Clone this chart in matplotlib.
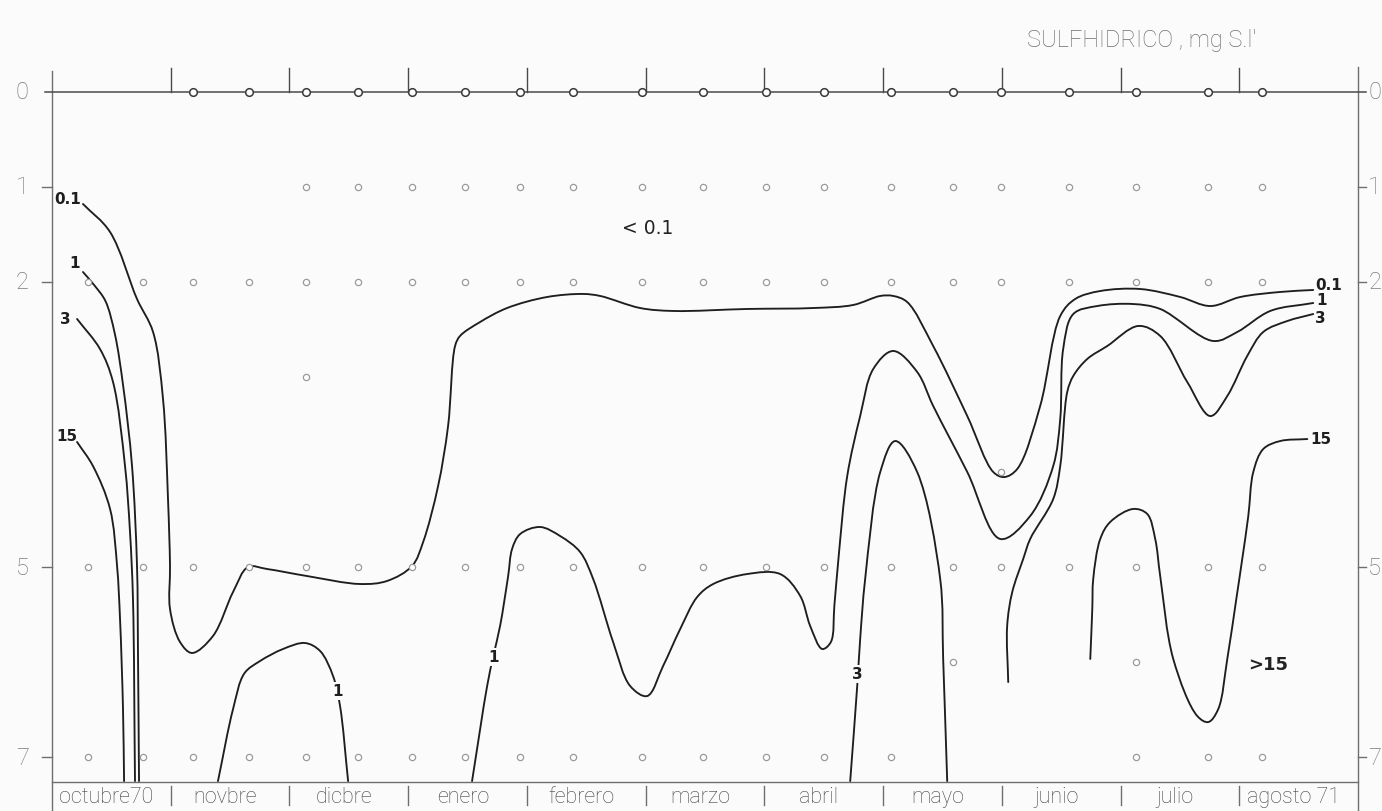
import numpy as np
import matplotlib
matplotlib.use("Agg")
import matplotlib.pyplot as plt
from matplotlib.path import Path
from matplotlib.patches import PathPatch

# ---------------- data ----------------
months = ["octubre70", "novbre", "dicbre", "enero", "febrero", "marzo",
          "abril", "mayo", "junio", "julio", "agosto 71"]
depth_ticks = [0, 1, 2, 5, 7]
title = "SULFHIDRICO , mg S.l'"

# sampling dates (in months since 1 Oct 1970)
station_x = [0.30, 0.77, 1.19, 1.66, 2.14, 2.58, 3.03, 3.48, 3.94, 4.39, 4.97,
             5.48, 6.01, 6.50, 7.07, 7.59, 7.99, 8.57, 9.13, 9.74, 10.19]
# indices of stations sampled at each depth
samples = {
    0: list(range(2, 21)),
    1: list(range(4, 21)),
    2: list(range(0, 21)),
    3: [4],
    4: [16],
    5: list(range(0, 21)),
    6: [15, 18],
    7: list(range(0, 15)) + [18, 19, 20],
}

# isolines (month, depth m)
iso01_a_x = [0.261, 0.489, 0.716, 0.851, 0.935, 0.977, 0.994, 0.994, 1.078, 1.179, 1.356,
             1.525, 1.651, 1.811, 2.148, 2.595, 2.822, 3.033, 3.126, 3.252, 3.336, 3.395,
             3.437, 3.606, 3.833, 4.170, 4.473, 4.617, 4.954, 5.232, 5.855, 6.411, 6.748,
             6.976, 7.085, 7.203, 7.422, 7.709, 7.928, 8.020, 8.130, 8.323, 8.492, 8.618,
             8.829, 9.166, 9.503, 9.756, 10.008, 10.345, 10.623]
iso01_a_d = [1.179, 1.474, 2.179, 2.526, 3.232, 4.284, 4.989, 5.442, 5.789, 5.905, 5.726,
             5.263, 5.000, 5.021, 5.095, 5.179, 5.147, 4.989, 4.737, 4.147, 3.516, 2.674,
             2.568, 2.421, 2.274, 2.158, 2.126, 2.147, 2.274, 2.305, 2.284, 2.274, 2.242,
             2.147, 2.147, 2.211, 2.674, 3.411, 4.000, 4.053, 3.968, 3.305, 2.358, 2.179,
             2.095, 2.074, 2.158, 2.253, 2.158, 2.105, 2.084]

iso1_a_x = [0.261, 0.360, 0.450, 0.530, 0.600, 0.674, 0.716, 0.724, 0.733]
iso1_a_d = [1.895, 2.040, 2.200, 2.550, 3.100, 3.937, 4.989, 5.863, 7.253]

iso3_a_x = [0.211, 0.404, 0.514, 0.615, 0.657, 0.682, 0.699]
iso3_a_d = [2.389, 2.705, 3.053, 3.937, 4.632, 5.337, 7.253]

iso15_a_x = [0.211, 0.345, 0.489, 0.548, 0.573, 0.598, 0.607]
iso15_a_d = [3.684, 3.937, 4.389, 4.989, 5.547, 6.495, 7.253]

iso1_b_x = [1.398, 1.525, 1.620, 1.752, 1.946, 2.131, 2.258, 2.367, 2.426, 2.494]
iso1_b_d = [7.253, 6.495, 6.120, 5.990, 5.863, 5.800, 5.884, 6.147, 6.463, 7.253]

iso1_c_x = [3.538, 3.665, 3.715, 3.774, 3.842, 3.875, 3.943, 4.111, 4.280, 4.448, 4.558,
            4.726, 4.870, 5.013, 5.147, 5.291, 5.434, 5.569, 5.855, 6.133, 6.302, 6.386,
            6.487, 6.560, 6.590, 6.625, 6.698, 6.807, 6.917, 7.085, 7.287, 7.422, 7.709,
            7.987, 8.239, 8.433, 8.492, 8.517, 8.602, 8.804, 9.107, 9.334, 9.781, 9.983,
            10.261, 10.623]
iso1_c_d = [7.253, 6.253, 5.947, 5.621, 5.095, 4.811, 4.653, 4.579, 4.674, 4.842, 5.126,
            5.789, 6.253, 6.358, 6.042, 5.653, 5.316, 5.179, 5.074, 5.074, 5.305, 5.621,
            5.863, 5.790, 5.400, 4.900, 4.042, 3.411, 2.916, 2.726, 2.947, 3.305, 4.000,
            4.705, 4.463, 3.937, 3.442, 2.705, 2.337, 2.253, 2.232, 2.284, 2.621, 2.526,
            2.305, 2.221]

iso3_b_x = [6.723, 6.782, 6.807, 6.849, 6.976, 7.102, 7.287, 7.481, 7.506, 7.540]
iso3_b_d = [7.253, 6.253, 5.758, 5.126, 4.000, 3.674, 4.000, 5.126, 5.968, 7.253]

iso3_c_x = [8.054, 8.045, 8.088, 8.180, 8.239, 8.433, 8.492, 8.551, 8.602, 8.719, 8.888,
            9.149, 9.334, 9.562, 9.756, 9.899, 10.067, 10.202, 10.404, 10.623]
iso3_c_d = [6.211, 5.621, 5.263, 4.916, 4.705, 4.284, 3.937, 3.158, 2.989, 2.811, 2.674,
            2.463, 2.568, 3.053, 3.411, 3.200, 2.779, 2.526, 2.411, 2.337]

iso15_b_x = [8.745, 8.762, 8.770, 8.829, 8.913, 9.107, 9.225, 9.292, 9.334, 9.444, 9.646,
             9.739, 9.823, 9.899, 9.975, 10.025, 10.076, 10.118, 10.202, 10.345, 10.573]
iso15_b_d = [5.968, 5.442, 5.126, 4.705, 4.526, 4.389, 4.442, 4.705, 5.095, 5.968, 6.568,
             6.632, 6.495, 5.968, 5.337, 4.916, 4.463, 4.000, 3.758, 3.674, 3.653]

# ---------------- figure ----------------
W, H = 1382, 812
fig = plt.figure(figsize=(W / 100, H / 100), dpi=100)
fig.patch.set_facecolor("#fbfbfb")
ax = fig.add_axes([52 / W, 29 / H, 1306 / W, 715 / H])
ax.set_xlim(0, 11)
ax.set_ylim(7.263, -0.263)
ax.axis("off")

AX = "#6e6e6e"
LAB = "#7a7a7a"
CL = "#1e1e1e"
THIN = dict(family=["Roboto", "DejaVu Sans"], fontweight="light")


def smooth_curve(xs, ds, lw=1.35, color=CL):
    """Centripetal Catmull-Rom curve through the given points, drawn as Bezier path."""
    pts = np.column_stack([xs, ds]).astype(float)
    n = len(pts)
    scr = ax.transData.transform(pts)
    seg = np.sqrt(np.linalg.norm(np.diff(scr, axis=0), axis=1)) + 1e-6
    t = np.concatenate([[0], np.cumsum(seg)])
    tang = np.zeros_like(pts)
    for i in range(n):
        if i == 0:
            tang[i] = (pts[1] - pts[0]) / (t[1] - t[0])
        elif i == n - 1:
            tang[i] = (pts[-1] - pts[-2]) / (t[-1] - t[-2])
        else:
            a = (pts[i] - pts[i - 1]) / (t[i] - t[i - 1])
            b = (pts[i + 1] - pts[i]) / (t[i + 1] - t[i])
            c = (pts[i + 1] - pts[i - 1]) / (t[i + 1] - t[i - 1])
            tang[i] = a + b - c
    verts = [tuple(pts[0])]
    codes = [Path.MOVETO]
    for i in range(n - 1):
        h = t[i + 1] - t[i]
        c1 = pts[i] + tang[i] * h / 3.0
        c2 = pts[i + 1] - tang[i + 1] * h / 3.0
        verts += [tuple(c1), tuple(c2), tuple(pts[i + 1])]
        codes += [Path.CURVE4] * 3
    ax.add_patch(PathPatch(Path(verts, codes), fill=False, lw=lw,
                           edgecolor=color, capstyle="round", zorder=3))


for xs, ds in [(iso01_a_x, iso01_a_d), (iso1_a_x, iso1_a_d), (iso3_a_x, iso3_a_d),
               (iso15_a_x, iso15_a_d), (iso1_b_x, iso1_b_d), (iso1_c_x, iso1_c_d),
               (iso3_b_x, iso3_b_d), (iso3_c_x, iso3_c_d), (iso15_b_x, iso15_b_d)]:
    smooth_curve(xs, ds)

# frame lines
kw = dict(color=AX, lw=1.0, clip_on=False, zorder=2)
ax.plot([0, 0], [-0.22, 7.57], **kw)
ax.plot([11, 11], [-0.26, 7.57], **kw)
ax.plot([0, 11], [7.263, 7.263], **kw)
ax.plot([-0.06, 11.07], [0, 0], color="#4a4a4a", lw=1.1, clip_on=False, zorder=2)
for m in range(1, 11):
    ax.plot([m, m], [0, -0.25], color="#4a4a4a", lw=1.0, clip_on=False, zorder=2)
    ax.plot([m, m], [7.31, 7.50], color=AX, lw=1.0, clip_on=False, zorder=2)

# depth ticks & labels
for d in depth_ticks:
    if d != 0:
        ax.plot([-0.085, 0], [d, d], **kw)
        ax.plot([11, 11.07], [d, d], **kw)
    ax.text(-0.25, d, str(d), ha="center", va="center", fontsize=17,
            color=LAB, clip_on=False, **THIN)
    ax.text(11.14, d, str(d), ha="center", va="center", fontsize=17,
            color=LAB, clip_on=False, **THIN)

# month labels
for i, name in enumerate(months):
    ax.text(i + 0.46, 7.42, name, ha="center", va="center", fontsize=15.5,
            color="#444444", clip_on=False, **THIN)

# sample circles
for d, idx in samples.items():
    xs = [station_x[i] for i in idx]
    if d == 0:
        ax.plot(xs, [d] * len(xs), "o", ms=5.5, mfc="white", mec="#3a3a3a",
                mew=1.1, zorder=4, clip_on=False)
    else:
        ax.plot(xs, [d] * len(xs), "o", ms=4.5, mfc="white", mec="#9a9a9a",
                mew=0.9, zorder=4, clip_on=False)

# contour labels
bold = dict(fontsize=11, fontweight="bold", color=CL, zorder=6)
ax.text(0.135, 1.126, "0.1", ha="center", va="center", **bold)
ax.text(0.194, 1.79, "1", ha="center", va="center", **bold)
ax.text(0.110, 2.389, "3", ha="center", va="center", **bold)
ax.text(0.126, 3.621, "15", ha="center", va="center", **bold)
ax.text(10.64, 2.03, "0.1", ha="left", va="center", clip_on=False, **bold)
ax.text(10.65, 2.18, "1", ha="left", va="center", clip_on=False, **bold)
ax.text(10.64, 2.37, "3", ha="left", va="center", clip_on=False, **bold)
ax.text(10.60, 3.65, "15", ha="left", va="center", clip_on=False, **bold)
box = dict(boxstyle="square,pad=0.08", fc="#fbfbfb", ec="none")
ax.text(2.401, 6.305, "1", ha="center", va="center", bbox=box, **bold)
ax.text(3.715, 5.947, "1", ha="center", va="center", bbox=box, **bold)
ax.text(6.782, 6.126, "3", ha="center", va="center", bbox=box, **bold)
ax.text(5.02, 1.43, "< 0.1", ha="center", va="center", fontsize=13.5, color="#222222")
ax.text(10.245, 6.02, ">15", ha="center", va="center", fontsize=13,
        fontweight="bold", color="#222222")

fig.text(1142 / W, 1 - 40 / H, title, ha="center", va="center", fontsize=17,
         color="#707070", **THIN)

fig.savefig("out.png", dpi=100, facecolor=fig.get_facecolor())
